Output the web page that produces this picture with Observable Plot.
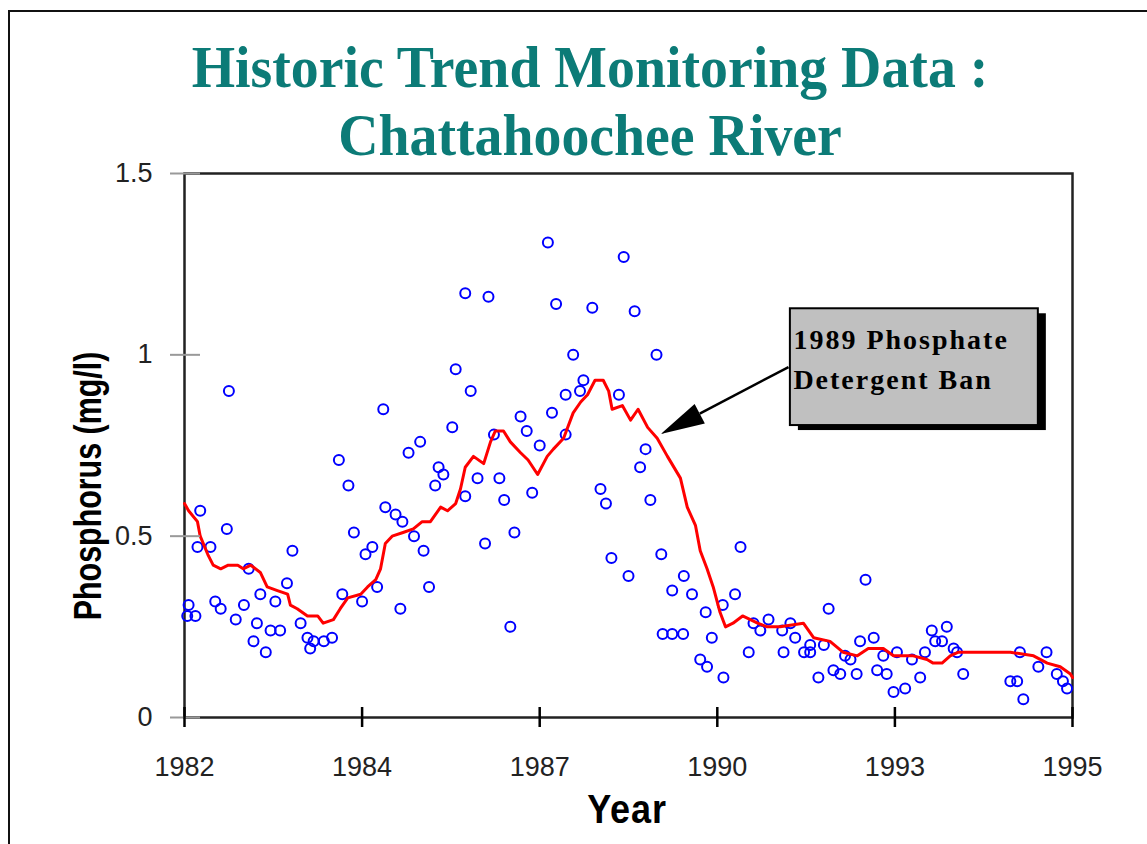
<!DOCTYPE html>
<html>
<head>
<meta charset="utf-8">
<script src="https://cdn.jsdelivr.net/npm/d3@7"></script>
<script src="https://cdn.jsdelivr.net/npm/@observablehq/plot@0.6"></script>
<style>
  html, body { margin: 0; padding: 0; background: #fff; }
  #wrap { position: relative; width: 1147px; height: 844px; overflow: hidden; background: #fff; }
  #border { position: absolute; left: 8px; top: 10px; width: 1200px; height: 900px; border-top: 2px solid #111; border-left: 2px solid #111; }
  #chart { position: absolute; left: 0; top: 0; }
  .title { position: absolute; left: 590px; white-space: nowrap; font-family: "Liberation Serif", "Times New Roman", serif; font-weight: bold; font-size: 60px; line-height: 60px; color: #0c7b77; transform: translateX(-50%) scaleX(0.93); }
  #ylabel { position: absolute; left: 88px; top: 486px; white-space: nowrap; font-family: "Liberation Sans", Arial, sans-serif; font-weight: bold; font-size: 38px; line-height: 38px; color: #000; transform: translate(-50%, -50%) rotate(-90deg) scaleX(0.8); }
  #xlabel { position: absolute; left: 627px; top: 789px; white-space: nowrap; font-family: "Liberation Sans", Arial, sans-serif; font-weight: bold; font-size: 40px; line-height: 40px; color: #000; letter-spacing: 1px; transform: translateX(-50%) scaleX(0.9); }
  svg g[font-family^="Liberation Serif"] text { letter-spacing: 2px; }
</style>
</head>
<body>
<div id="wrap">
  <div id="border"></div>
  <div id="chart"></div>
  <div class="title" style="top:37px">Historic Trend Monitoring Data :</div>
  <div class="title" style="top:105px">Chattahoochee River</div>
  <div id="ylabel">Phosphorus (mg/l)</div>
  <div id="xlabel">Year</div>
</div>
<script>
// ---- Data ----
const sampleYear = [
  1982.04, 1982.06, 1982.16, 1982.19, 1982.23, 1982.38, 1982.45, 1982.53, 1982.62, 1982.65,
  1982.75, 1982.87, 1982.94, 1983.01, 1983.06, 1983.11, 1983.19, 1983.26, 1983.33, 1983.40,
  1983.50, 1983.58, 1983.70, 1983.80, 1983.84, 1983.89, 1984.04, 1984.16, 1984.26, 1984.31,
  1984.40, 1984.48, 1984.60, 1984.65, 1984.75, 1984.82, 1984.91, 1984.94, 1985.09, 1985.16,
  1985.19, 1985.28, 1985.36, 1985.45, 1985.50, 1985.58, 1985.67, 1985.72, 1985.79, 1985.92,
  1985.97, 1986.11, 1986.11, 1986.19, 1986.29, 1986.40, 1986.45, 1986.53, 1986.61, 1986.68,
  1986.77, 1986.83, 1986.92, 1987.01, 1987.09, 1987.20, 1987.32, 1987.38, 1987.44, 1987.58,
  1987.58, 1987.69, 1987.79, 1987.84, 1987.97, 1988.09, 1988.17, 1988.25, 1988.36, 1988.43,
  1988.50, 1988.59, 1988.67, 1988.75, 1988.82, 1988.91, 1988.98, 1989.00, 1989.14, 1989.30,
  1989.14, 1989.31, 1989.43, 1989.55, 1989.63, 1989.65, 1989.72, 1989.88, 1989.89, 1990.06,
  1990.14, 1990.26, 1990.33, 1990.43, 1990.55, 1990.75, 1990.77, 1990.87, 1990.94, 1991.07,
  1991.16, 1991.16, 1991.28, 1991.36, 1991.43, 1991.50, 1991.60, 1991.67, 1991.75, 1991.84,
  1991.89, 1991.97, 1992.09, 1992.14, 1992.23, 1992.28, 1992.38, 1992.43, 1992.55, 1992.65,
  1992.77, 1992.84, 1992.94, 1992.99, 1993.09, 1993.16, 1993.26, 1993.31, 1993.40, 1994.09,
  1994.19, 1994.23, 1994.28, 1994.50, 1994.62, 1994.77, 1994.86, 1994.92
];
const samplePhosphorus = [
  0.28, 0.31, 0.28, 0.47, 0.57, 0.47, 0.32, 0.30, 0.52, 0.90,
  0.27, 0.31, 0.41, 0.21, 0.26, 0.34, 0.18, 0.24, 0.32, 0.24,
  0.37, 0.46, 0.26, 0.22, 0.19, 0.21, 0.21, 0.22, 0.71, 0.34,
  0.64, 0.51, 0.32, 0.45, 0.47, 0.36, 0.85, 0.58, 0.56, 0.30,
  0.54, 0.73, 0.50, 0.76, 0.46, 0.36, 0.64, 0.69, 0.67, 0.80,
  0.96, 1.17, 0.61, 0.90, 0.66, 0.48, 1.16, 0.78, 0.66, 0.60,
  0.25, 0.51, 0.83, 0.79, 0.62, 0.75, 1.31, 0.84, 1.14, 0.89,
  0.78, 1.00, 0.90, 0.93, 1.13, 0.63, 0.59, 0.44, 0.89, 1.27,
  0.39, 1.12, 0.69, 0.74, 0.60, 1.00, 0.45, 0.23, 0.23, 0.23,
  0.35, 0.39, 0.34, 0.16, 0.29, 0.14, 0.22, 0.31, 0.11, 0.34,
  0.47, 0.18, 0.26, 0.24, 0.27, 0.24, 0.18, 0.26, 0.22, 0.18,
  0.18, 0.20, 0.11, 0.20, 0.30, 0.13, 0.12, 0.17, 0.16, 0.12,
  0.21, 0.38, 0.22, 0.13, 0.17, 0.12, 0.07, 0.18, 0.08, 0.16,
  0.11, 0.18, 0.24, 0.21, 0.21, 0.25, 0.19, 0.18, 0.12, 0.10,
  0.10, 0.18, 0.05, 0.14, 0.18, 0.12, 0.10, 0.08
];
const trendYear = [
  1982.00, 1982.06, 1982.19, 1982.23, 1982.34, 1982.42, 1982.53, 1982.64, 1982.78, 1982.86,
  1982.97, 1983.11, 1983.21, 1983.36, 1983.51, 1983.55, 1983.65, 1983.80, 1983.95, 1984.03,
  1984.18, 1984.28, 1984.39, 1984.58, 1984.68, 1984.80, 1984.87, 1984.94, 1985.04, 1985.20,
  1985.35, 1985.48, 1985.60, 1985.75, 1985.85, 1985.97, 1986.04, 1986.11, 1986.23, 1986.38,
  1986.48, 1986.55, 1986.67, 1986.77, 1986.92, 1987.03, 1987.17, 1987.31, 1987.40, 1987.55,
  1987.69, 1987.80, 1987.90, 1988.01, 1988.13, 1988.21, 1988.26, 1988.41, 1988.53, 1988.64,
  1988.78, 1988.92, 1989.07, 1989.26, 1989.36, 1989.48, 1989.55, 1989.65, 1989.74, 1989.84,
  1989.92, 1990.03, 1990.17, 1990.39, 1990.53, 1990.72, 1991.06, 1991.21, 1991.45, 1991.64,
  1991.85, 1992.01, 1992.23, 1992.38, 1992.67, 1992.87, 1992.96, 1993.09, 1993.21, 1993.33,
  1994.09, 1994.43, 1994.63, 1994.82, 1994.97, 1995.00
];
const trendPhosphorus = [
  0.59, 0.57, 0.54, 0.50, 0.45, 0.42, 0.41, 0.42, 0.42, 0.41,
  0.42, 0.40, 0.36, 0.35, 0.34, 0.31, 0.30, 0.28, 0.28, 0.26,
  0.27, 0.30, 0.33, 0.34, 0.36, 0.38, 0.41, 0.48, 0.50, 0.51,
  0.52, 0.54, 0.54, 0.58, 0.57, 0.59, 0.63, 0.69, 0.72, 0.70,
  0.76, 0.79, 0.79, 0.76, 0.73, 0.71, 0.67, 0.72, 0.74, 0.77,
  0.84, 0.87, 0.89, 0.93, 0.93, 0.90, 0.85, 0.86, 0.82, 0.85,
  0.80, 0.77, 0.72, 0.66, 0.58, 0.53, 0.46, 0.41, 0.36, 0.29,
  0.25, 0.26, 0.28, 0.26, 0.25, 0.25, 0.26, 0.22, 0.21, 0.18,
  0.17, 0.19, 0.19, 0.17, 0.17, 0.16, 0.15, 0.15, 0.17, 0.18,
  0.18, 0.17, 0.15, 0.14, 0.12, 0.11
];
const xTickYears = [1982, 1984.6, 1987.2, 1989.8, 1992.4, 1995];
const xTickLabels = ["1982", "1984", "1987", "1990", "1993", "1995"];
const yTickValues = [0, 0.5, 1, 1.5];
const yTickLabels = ["0", "0.5", "1", "1.5"];
const annotationLines = ["1989 Phosphate", "Detergent Ban"];
// annotation anchor (data units): box corners and arrow endpoints
const annotationBox = {x1: 1990.87, x2: 1994.50, y1: 0.805, y2: 1.127};
const arrowFrom = [1990.85, 0.965];
const arrowTo = [1988.98, 0.780];

// ---- Tables built from the arrays ----
const samples = sampleYear.map((y, i) => ({year: y, p: samplePhosphorus[i]}));
const trend = trendYear.map((y, i) => ({year: y, p: trendPhosphorus[i]}));
const xLabelMap = new Map(xTickYears.map((d, i) => [d, xTickLabels[i]]));
const yLabelMap = new Map(yTickValues.map((d, i) => [d, yTickLabels[i]]));

const arrowMark = (index, scales) => {
  const x0 = scales.x(arrowFrom[0]), y0 = scales.y(arrowFrom[1]);
  const x1 = scales.x(arrowTo[0]), y1 = scales.y(arrowTo[1]);
  const ang = Math.atan2(y1 - y0, x1 - x0);
  const L = 44, W = 11;
  const bx = x1 - L * Math.cos(ang), by = y1 - L * Math.sin(ang);
  const px = -Math.sin(ang) * W, py = Math.cos(ang) * W;
  const g = d3.create("svg:g");
  g.append("line").attr("x1", x0).attr("y1", y0).attr("x2", bx).attr("y2", by)
    .attr("stroke", "#000").attr("stroke-width", 2.5);
  g.append("path").attr("d", `M${x1},${y1}L${bx + px},${by + py}L${bx - px},${by - py}Z`)
    .attr("fill", "#000");
  return g.node();
};

const chart = Plot.plot({
  width: 1147,
  height: 844,
  marginTop: 173,
  marginBottom: 127,
  marginLeft: 184,
  marginRight: 75,
  style: {fontFamily: "'Liberation Sans', Arial, sans-serif", fontSize: "27px", color: "#222", background: "transparent"},
  x: {domain: [1982, 1995]},
  y: {domain: [0, 1.5]},
  marks: [
    Plot.frame({stroke: "#222", strokeWidth: 2.5}),
    Plot.dot(samples, {x: "year", y: "p", r: 5, stroke: "#0000ff", strokeWidth: 2, fill: "none"}),
    Plot.line(trend, {x: "year", y: "p", stroke: "#ff0000", strokeWidth: 3}),
    Plot.axisY(yTickValues, {tickFormat: d => yLabelMap.get(d), tickSize: 30, dx: 16, tickPadding: 18, stroke: "#999", strokeWidth: 2, fill: "#222", label: null}),
    Plot.axisX(xTickYears, {tickFormat: d => xLabelMap.get(d), tickSize: 20, dy: -10, tickPadding: 29, stroke: "#000", strokeWidth: 2.5, fill: "#222", label: null}),
    Plot.rect([annotationBox], {x1: "x1", x2: "x2", y1: "y1", y2: "y2", fill: "#000", dx: 8, dy: 5}),
    Plot.rect([annotationBox], {x1: "x1", x2: "x2", y1: "y1", y2: "y2", fill: "#c0c0c0", stroke: "#000", strokeWidth: 2}),
    Plot.text([{x: annotationBox.x1, y: annotationBox.y2, t: annotationLines.join("\n")}], {
      x: "x", y: "y", text: "t", textAnchor: "start", lineAnchor: "top", dx: 3, dy: 12,
      fontFamily: "Liberation Serif", fontWeight: "bold", fontSize: 28, lineHeight: 1.43, fill: "#000"
    }),
    arrowMark
  ]
});
document.getElementById("chart").appendChild(chart);
</script>
</body>
</html>
